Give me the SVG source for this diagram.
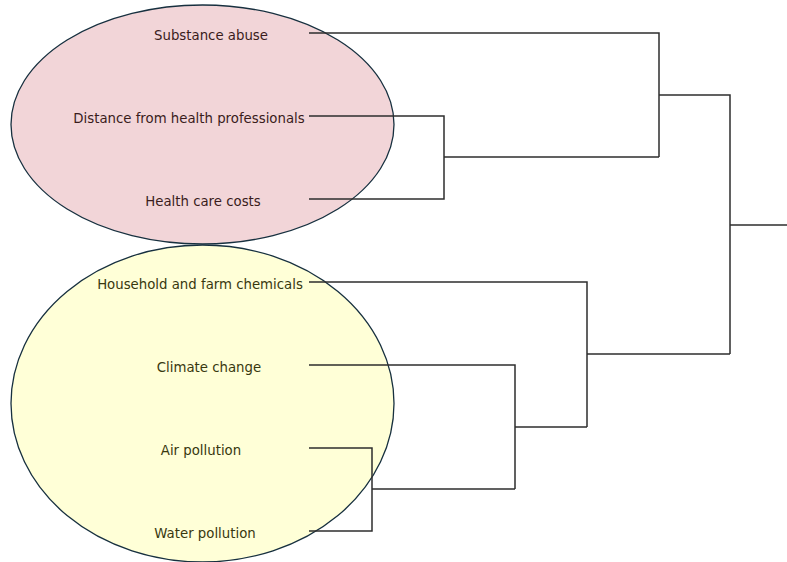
<svg xmlns="http://www.w3.org/2000/svg" width="787" height="562" viewBox="0 0 787 562">
<style>
.bg{fill:#ffffff}
.ell{stroke:#17303f;stroke-width:1.3}
.pink{fill:#f2d5d8}
.yellow{fill:#ffffd7}
.lbl{font-family:"DejaVu Sans","Liberation Sans",sans-serif;font-size:13.3px;text-anchor:middle}
.tp{fill:#3a1c1c}
.ty{fill:#38380f}
.conn{fill:none;stroke:#2e2e2e;stroke-width:1.5}
</style>
<rect class="bg" width="787" height="562"/>
<g id="cluster-health">
<ellipse class="ell pink" cx="202.5" cy="124.5" rx="191.5" ry="119.5"/>
</g>
<g id="cluster-environment">
<ellipse class="ell yellow" cx="202.5" cy="403.5" rx="191.5" ry="158.5"/>
</g>
<g id="connectors">
<path class="conn" d="M309,33 H659 V157 M309,116 H444 V199 H309 M444,157 H659 M659,95 H730 V354 M309,282 H587 V427 M309,365 H515 V489 M309,448 H372 V531 H309 M372,489 H515 M515,427 H587 M587,354 H730 M730,225 H787"/>
</g>
<g id="node-substance"><text class="lbl tp" x="211" y="40">Substance abuse</text></g>
<g id="node-distance"><text class="lbl tp" x="189" y="123">Distance from health professionals</text></g>
<g id="node-costs"><text class="lbl tp" x="203" y="206">Health care costs</text></g>
<g id="node-chemicals"><text class="lbl ty" x="200" y="289">Household and farm chemicals</text></g>
<g id="node-climate"><text class="lbl ty" x="209" y="372">Climate change</text></g>
<g id="node-air"><text class="lbl ty" x="201" y="455">Air pollution</text></g>
<g id="node-water"><text class="lbl ty" x="205" y="538">Water pollution</text></g>
</svg>
